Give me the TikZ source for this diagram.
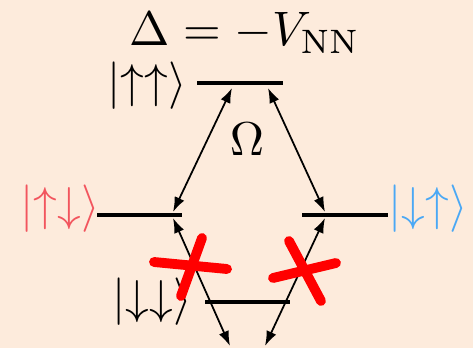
\documentclass[tikz,border=0pt]{standalone}
\usetikzlibrary{arrows.meta}
\definecolor{bgpeach}{HTML}{FDEBDC}
\definecolor{ketred}{HTML}{F2555E}
\definecolor{ketblue}{HTML}{4AA8F5}
\begin{document}
\begin{tikzpicture}[
            x=0.02cm, y=-0.02cm,
            big/.style={inner sep=0pt, scale=2.7},
            level/.style={line width=2.2pt},
            coupling/.style={{Latex[length=8.5pt,width=6pt]}-{Latex[length=8.5pt,width=6pt]}, line width=1pt},
            cross/.style={red, line width=5.6pt, line cap=round}
        ]
            \fill[bgpeach] (0,0) rectangle (473,348);
            \useasboundingbox (0,0) rectangle (473,348);

            \node[big, scale=1.02] (delta) at (245,33) {$\Delta = -V_{\mathrm{NN}}$};

            % levels
            \coordinate (upL) at (197,83);
            \coordinate (upR) at (283,83);
            \coordinate (mixLa) at (97,215);
            \coordinate (mixLb) at (182,215);
            \coordinate (mixRa) at (302,215);
            \coordinate (mixRb) at (388,215);
            \coordinate (dnL) at (205,302);
            \coordinate (dnR) at (290,302);
            \draw[level] (upL) -- (upR);
            \draw[level] (mixLa) -- (mixLb);
            \draw[level] (mixRa) -- (mixRb);
            \draw[level] (dnL) -- (dnR);

            \node[big] (kuu) at (147,86) {$|{\uparrow\uparrow}\rangle$};
            \node[big, text=ketred] (kud) at (60,209) {$|{\uparrow\downarrow}\rangle$};
            \node[big, text=ketblue] (kdu) at (428,209) {$|{\downarrow\uparrow}\rangle$};
            \node[big] (kdd) at (152,302) {$|{\downarrow\downarrow}\rangle$};
            \node[big] (omega) at (247,139) {$\Omega$};

            % couplings
            \coordinate (tA) at (232,88);
            \coordinate (tB) at (268,88);
            \coordinate (mA) at (173,212);
            \coordinate (mB) at (325,212);
            \coordinate (lA) at (173,218);
            \coordinate (lB) at (325,218);
            \coordinate (bA) at (230,346);
            \coordinate (bB) at (265,346);
            \draw[coupling] (tA) -- (mA);
            \draw[coupling] (tB) -- (mB);
            \draw[coupling] (lA) -- (bA);
            \draw[coupling] (lB) -- (bB);

            % blocked
            \draw[cross] (154,262) -- (227,269);
            \draw[cross] (202,238) -- (181,296);
            \draw[cross] (273,278) -- (336,263);
            \draw[cross] (289,241) -- (321,301);
        \end{tikzpicture}
\end{document}
